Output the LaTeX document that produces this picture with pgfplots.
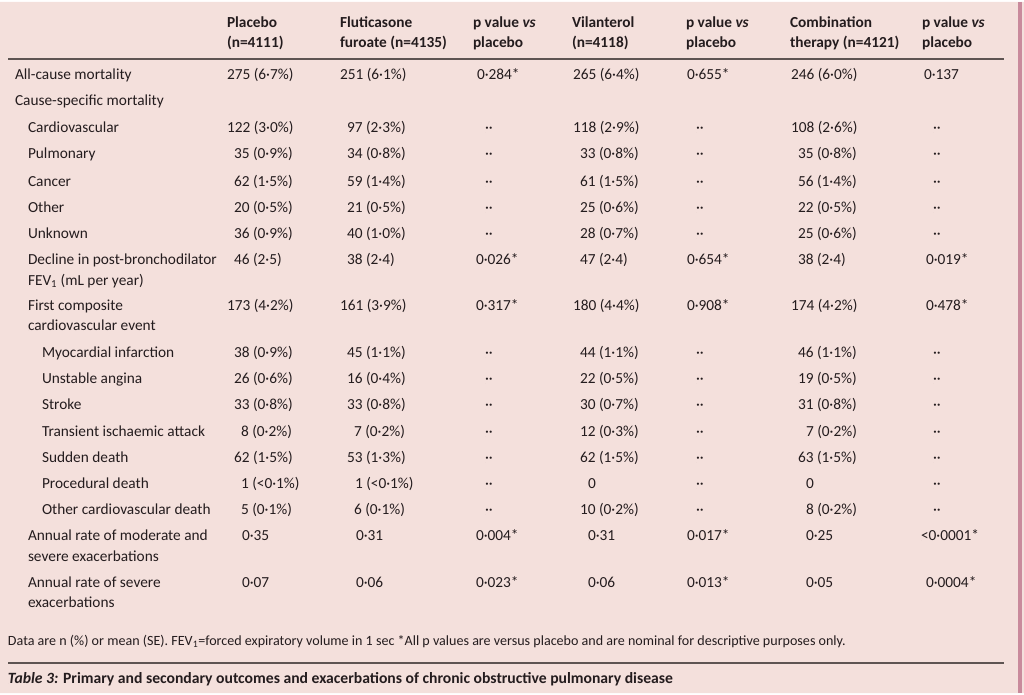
\documentclass[border=0pt]{standalone}
\usepackage{fontspec}
\setmainfont{Carlito}
\usepackage{pgfplots}
\pgfplotsset{compat=1.18}
\definecolor{bg}{HTML}{F4E0DC}
\definecolor{txt}{HTML}{241C1E}
\definecolor{rulec}{HTML}{5E5452}
\definecolor{edge}{HTML}{C98A9C}
\newcommand\calib[3]{%
  \setbox0=\hbox{\fontsize{10}{12}\selectfont #3}%
  \edef\tmpw{\the\wd0}%
  \pgfmathsetmacro#1{10*#2/\tmpw}}
\newcommand\bodyfont{\fontsize{\fsbody}{\fsbody}\selectfont}
\newcommand\footfont{\fontsize{\fsfoot}{\fsfoot}\selectfont}
\newcommand\capfont{\fontsize{\fscap}{\fscap}\selectfont\bfseries}
\pgfplotsset{
  cell/.style={only marks, mark=*, mark size=0pt, mark options={draw=none,fill=none},
    point meta=explicit symbolic, nodes near coords,
    every node near coord/.append style={anchor=base west, inner sep=0pt, outer sep=0pt,
      font=\bodyfont, text=txt}},
  head/.style={cell, every node near coord/.append style={font=\bodyfont\bfseries}},
}
\begin{document}%
\calib\fsbody{163}{Transient ischaemic attack}%
\calib\fsfoot{838}{Data are n (\%) or mean (SE). FEV\textsubscript{1}=forced expiratory volume in 1 sec *All p values are versus placebo and are nominal for descriptive purposes only.}%
\calib\fscap{665}{\bfseries\textit{Table 3:} Primary and secondary outcomes and exacerbations of chronic obstructive pulmonary disease}%
\begin{tikzpicture}
\begin{axis}[scale only axis, width=1024pt, height=691pt,
  xmin=0, xmax=1024, ymin=0, ymax=691, y dir=reverse, hide axis, clip=false]
% background
\addplot[fill=bg, draw=none] coordinates {(0,0) (1024,0) (1024,691) (0,691) (0,0)};
% rules and edge
\addplot[draw=rulec, line width=1.6pt] coordinates {(8,57) (1004,57)};
\addplot[draw=rulec, line width=1.4pt] coordinates {(8,661) (1004,661)};
\addplot[draw=edge, line width=4pt] coordinates {(1019.5,0) (1019.5,691)};
% header
\addplot[head] coordinates {
 (227,26) [Placebo] (227,46) [(n=4111)]
 (340,26) [Fluticasone] (340,46) [furoate (n=4135)]
 (473,26) [p value \textit{vs}] (473,46) [placebo]
 (572,26) [Vilanterol] (572,46) [(n=4118)]
 (686,26) [p value \textit{vs}] (686,46) [placebo]
 (790,26) [Combination] (790,46) [therapy (n=4121)]
 (922,26) [p value \textit{vs}] (922,46) [placebo]
};
% row labels
\addplot[cell] coordinates {
 (15,78) [All-cause mortality]
 (15,104) [Cause-specific mortality]
 (28,131) [Cardiovascular]
 (28,157) [Pulmonary]
 (28,184) [Cancer]
 (28,210) [Other]
 (28,236) [Unknown]
 (28,262) [Decline in post-bronchodilator]
 (28,283) [FEV\textsubscript{1} (mL per year)]
 (28,308) [First composite]
 (28,328) [cardiovascular event]
 (42,355) [Myocardial infarction]
 (42,381) [Unstable angina]
 (42,407) [Stroke]
 (42,434) [Transient ischaemic attack]
 (42,460) [Sudden death]
 (42,486) [Procedural death]
 (42,512) [Other cardiovascular death]
 (28,538) [Annual rate of moderate and]
 (28,559) [severe exacerbations]
 (28,585) [Annual rate of severe]
 (28,605) [exacerbations]
};
% Placebo
\addplot[cell] coordinates {
 (227,78) [275 (6·7\%)]
 (227,131) [122 (3·0\%)]
 (234,157) [35 (0·9\%)]
 (234,184) [62 (1·5\%)]
 (234,210) [20 (0·5\%)]
 (234,236) [36 (0·9\%)]
 (234,262) [46 (2·5)]
 (227,308) [173 (4·2\%)]
 (234,355) [38 (0·9\%)]
 (234,381) [26 (0·6\%)]
 (234,407) [33 (0·8\%)]
 (241,434) [8 (0·2\%)]
 (234,460) [62 (1·5\%)]
 (241,486) [1 (<0·1\%)]
 (241,512) [5 (0·1\%)]
 (242,538) [0·35]
 (242,585) [0·07]
};
% Fluticasone furoate
\addplot[cell] coordinates {
 (340,78) [251 (6·1\%)]
 (347,131) [97 (2·3\%)]
 (347,157) [34 (0·8\%)]
 (347,184) [59 (1·4\%)]
 (347,210) [21 (0·5\%)]
 (347,236) [40 (1·0\%)]
 (347,262) [38 (2·4)]
 (340,308) [161 (3·9\%)]
 (347,355) [45 (1·1\%)]
 (347,381) [16 (0·4\%)]
 (347,407) [33 (0·8\%)]
 (354,434) [7 (0·2\%)]
 (347,460) [53 (1·3\%)]
 (355,486) [1 (<0·1\%)]
 (354,512) [6 (0·1\%)]
 (356,538) [0·31]
 (356,585) [0·06]
};
% p value vs placebo (FF)
\addplot[cell] coordinates {
 (477,78) [0·284*]
 (485,131) [··] (485,157) [··] (485,184) [··] (485,210) [··] (485,236) [··]
 (476,262) [0·026*]
 (476,308) [0·317*]
 (485,355) [··] (485,381) [··] (485,407) [··] (485,434) [··] (485,460) [··] (485,486) [··] (485,512) [··]
 (476,538) [0·004*]
 (476,585) [0·023*]
};
% Vilanterol
\addplot[cell] coordinates {
 (573,78) [265 (6·4\%)]
 (573,131) [118 (2·9\%)]
 (580,157) [33 (0·8\%)]
 (580,184) [61 (1·5\%)]
 (580,210) [25 (0·6\%)]
 (580,236) [28 (0·7\%)]
 (580,262) [47 (2·4)]
 (573,308) [180 (4·4\%)]
 (580,355) [44 (1·1\%)]
 (580,381) [22 (0·5\%)]
 (580,407) [30 (0·7\%)]
 (580,434) [12 (0·3\%)]
 (580,460) [62 (1·5\%)]
 (588,486) [0]
 (580,512) [10 (0·2\%)]
 (588,538) [0·31]
 (588,585) [0·06]
};
% p value vs placebo (VI)
\addplot[cell] coordinates {
 (687,78) [0·655*]
 (696,131) [··] (696,157) [··] (696,184) [··] (696,210) [··] (696,236) [··]
 (687,262) [0·654*]
 (687,308) [0·908*]
 (696,355) [··] (696,381) [··] (696,407) [··] (696,434) [··] (696,460) [··] (696,486) [··] (696,512) [··]
 (687,538) [0·017*]
 (687,585) [0·013*]
};
% Combination therapy
\addplot[cell] coordinates {
 (791,78) [246 (6·0\%)]
 (791,131) [108 (2·6\%)]
 (798,157) [35 (0·8\%)]
 (798,184) [56 (1·4\%)]
 (798,210) [22 (0·5\%)]
 (798,236) [25 (0·6\%)]
 (798,262) [38 (2·4)]
 (791,308) [174 (4·2\%)]
 (798,355) [46 (1·1\%)]
 (798,381) [19 (0·5\%)]
 (798,407) [31 (0·8\%)]
 (806,434) [7 (0·2\%)]
 (798,460) [63 (1·5\%)]
 (806,486) [0]
 (806,512) [8 (0·2\%)]
 (806,538) [0·25]
 (806,585) [0·05]
};
% p value vs placebo (combination)
\addplot[cell] coordinates {
 (924,78) [0·137]
 (933,131) [··] (933,157) [··] (933,184) [··] (933,210) [··] (933,236) [··]
 (926,262) [0·019*]
 (926,308) [0·478*]
 (933,355) [··] (933,381) [··] (933,407) [··] (933,434) [··] (933,460) [··] (933,486) [··] (933,512) [··]
 (921,538) [<0·0001*]
 (926,585) [0·0004*]
};
% footnote and caption
\addplot[cell, every node near coord/.append style={font=\footfont}] coordinates {
 (8,643) [Data are n (\%) or mean (SE). FEV\textsubscript{1}=forced expiratory volume in 1 sec *All p values are versus placebo and are nominal for descriptive purposes only.]
};
\addplot[cell, every node near coord/.append style={font=\capfont}] coordinates {
 (8,681) [\textit{Table 3:} Primary and secondary outcomes and exacerbations of chronic obstructive pulmonary disease]
};
\end{axis}
\end{tikzpicture}%
\end{document}
